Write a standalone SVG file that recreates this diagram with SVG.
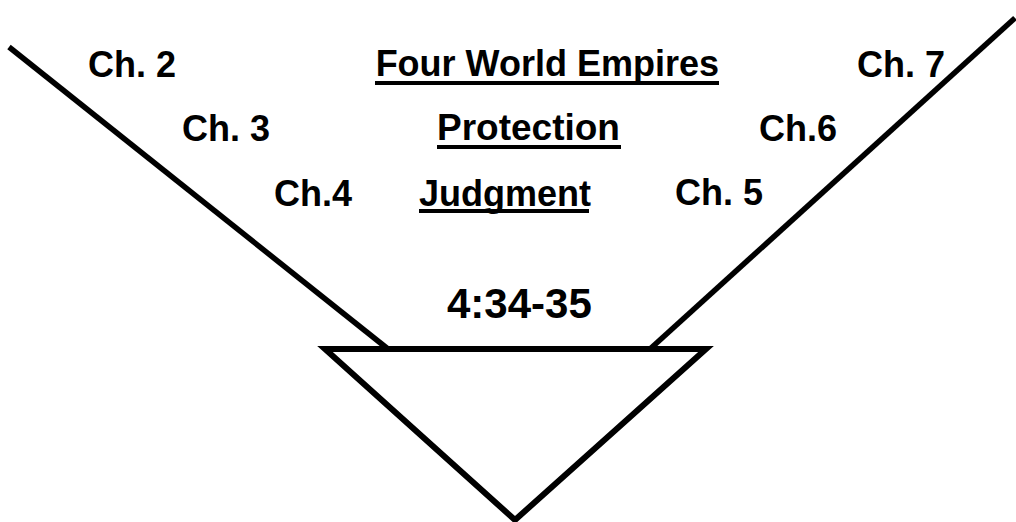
<svg xmlns="http://www.w3.org/2000/svg" width="1016" height="522" viewBox="0 0 1016 522">
  <style>
    .lbl { font-family: "Liberation Sans", Arial, sans-serif; font-weight: bold; font-size: 36px; fill: #000; }
    .big { font-size: 42px; }
    .ul { stroke: #000; stroke-width: 4; }
    .edge { stroke: #000; stroke-width: 5.5; fill: none; }
  </style>
  <rect width="1016" height="522" fill="#fff"/>
  <g id="connectors">
    <line class="edge" x1="9" y1="47" x2="388" y2="349"/>
    <line class="edge" x1="1015" y1="18" x2="650" y2="349"/>
  </g>
  <g id="funnel">
    <polygon points="325,349 706,349 515,520" fill="#fff" stroke="#000" stroke-width="6"/>
  </g>
  <g id="ch2"><text class="lbl" x="88" y="77">Ch. 2</text></g>
  <g id="empires">
    <text class="lbl" x="719" y="76" text-anchor="end">Four World Empires</text>
    <line class="ul" x1="375" y1="83" x2="719" y2="83"/>
  </g>
  <g id="ch7"><text class="lbl" x="857" y="77">Ch. 7</text></g>
  <g id="ch3"><text class="lbl" x="182" y="141">Ch. 3</text></g>
  <g id="protection">
    <text class="lbl" x="437" y="140" style="font-size:37px">Protection</text>
    <line class="ul" x1="437" y1="147" x2="621" y2="147"/>
  </g>
  <g id="ch6"><text class="lbl" x="759" y="141">Ch.6</text></g>
  <g id="ch4"><text class="lbl" x="274" y="206">Ch.4</text></g>
  <g id="judgment">
    <text class="lbl" x="419" y="206">Judgment</text>
    <line class="ul" x1="419" y1="211" x2="589" y2="211"/>
  </g>
  <g id="ch5"><text class="lbl" x="675" y="205">Ch. 5</text></g>
  <g id="verse"><text class="lbl big" x="447" y="318">4:34-35</text></g>
</svg>
